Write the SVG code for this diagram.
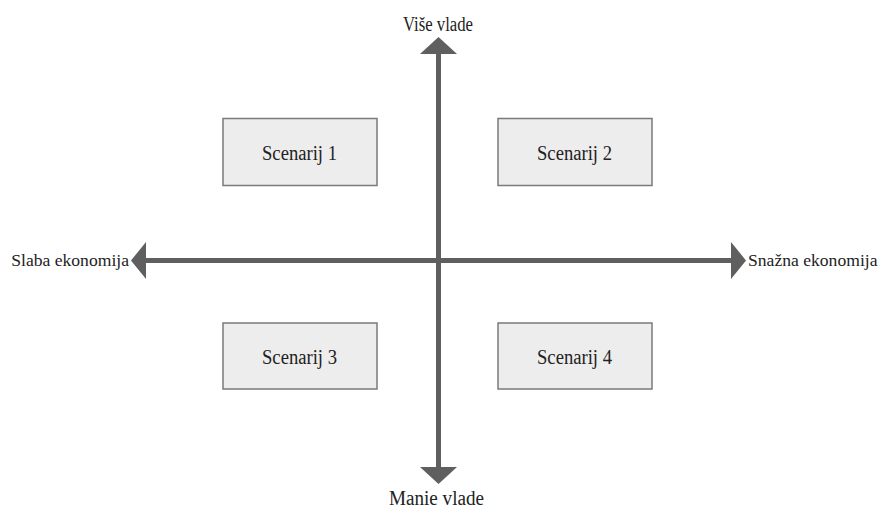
<svg xmlns="http://www.w3.org/2000/svg" width="878" height="510" viewBox="0 0 878 510">
<style>
.box{fill:#ededed;stroke:#7a7a7a;stroke-width:1.5}
.lbl{font-family:"Liberation Serif",serif;font-size:20px;fill:#222}
.side{font-size:17.6px}
.ax{stroke:#5f5f5f;stroke-width:5;fill:none}
.ah{fill:#5f5f5f}
</style>
<rect width="878" height="510" fill="#fff"/>
<g id="connectors">
<line class="ax" x1="438.5" y1="50" x2="438.5" y2="470"/>
<polygon class="ah" points="438.5,37 420,54 457,54"/>
<polygon class="ah" points="438.5,484 420,467 457,467"/>
<line class="ax" x1="143" y1="260.5" x2="735" y2="260.5"/>
<polygon class="ah" points="131,260.5 146,242 146,279"/>
<polygon class="ah" points="746,260.5 731,242 731,279"/>
</g>
<g id="s1"><rect class="box" x="223" y="118.5" width="154" height="67"/><text class="lbl" x="262" y="160" textLength="75" lengthAdjust="spacingAndGlyphs">Scenarij 1</text></g>
<g id="s2"><rect class="box" x="498" y="118.5" width="154" height="67"/><text class="lbl" x="537" y="160" textLength="75" lengthAdjust="spacingAndGlyphs">Scenarij 2</text></g>
<g id="s3"><rect class="box" x="223" y="323" width="154" height="66"/><text class="lbl" x="262" y="364" textLength="75" lengthAdjust="spacingAndGlyphs">Scenarij 3</text></g>
<g id="s4"><rect class="box" x="498" y="323" width="154" height="66"/><text class="lbl" x="537" y="364" textLength="75" lengthAdjust="spacingAndGlyphs">Scenarij 4</text></g>
<g id="top"><text class="lbl" x="403" y="31" textLength="70" lengthAdjust="spacingAndGlyphs">Više vlade</text></g>
<g id="bottom"><text class="lbl" x="389" y="505" textLength="95" lengthAdjust="spacingAndGlyphs">Manie vlade</text></g>
<g id="left"><text class="lbl side" x="129" y="266" text-anchor="end">Slaba ekonomija</text></g>
<g id="right"><text class="lbl side" x="748" y="266">Snažna ekonomija</text></g>
</svg>
